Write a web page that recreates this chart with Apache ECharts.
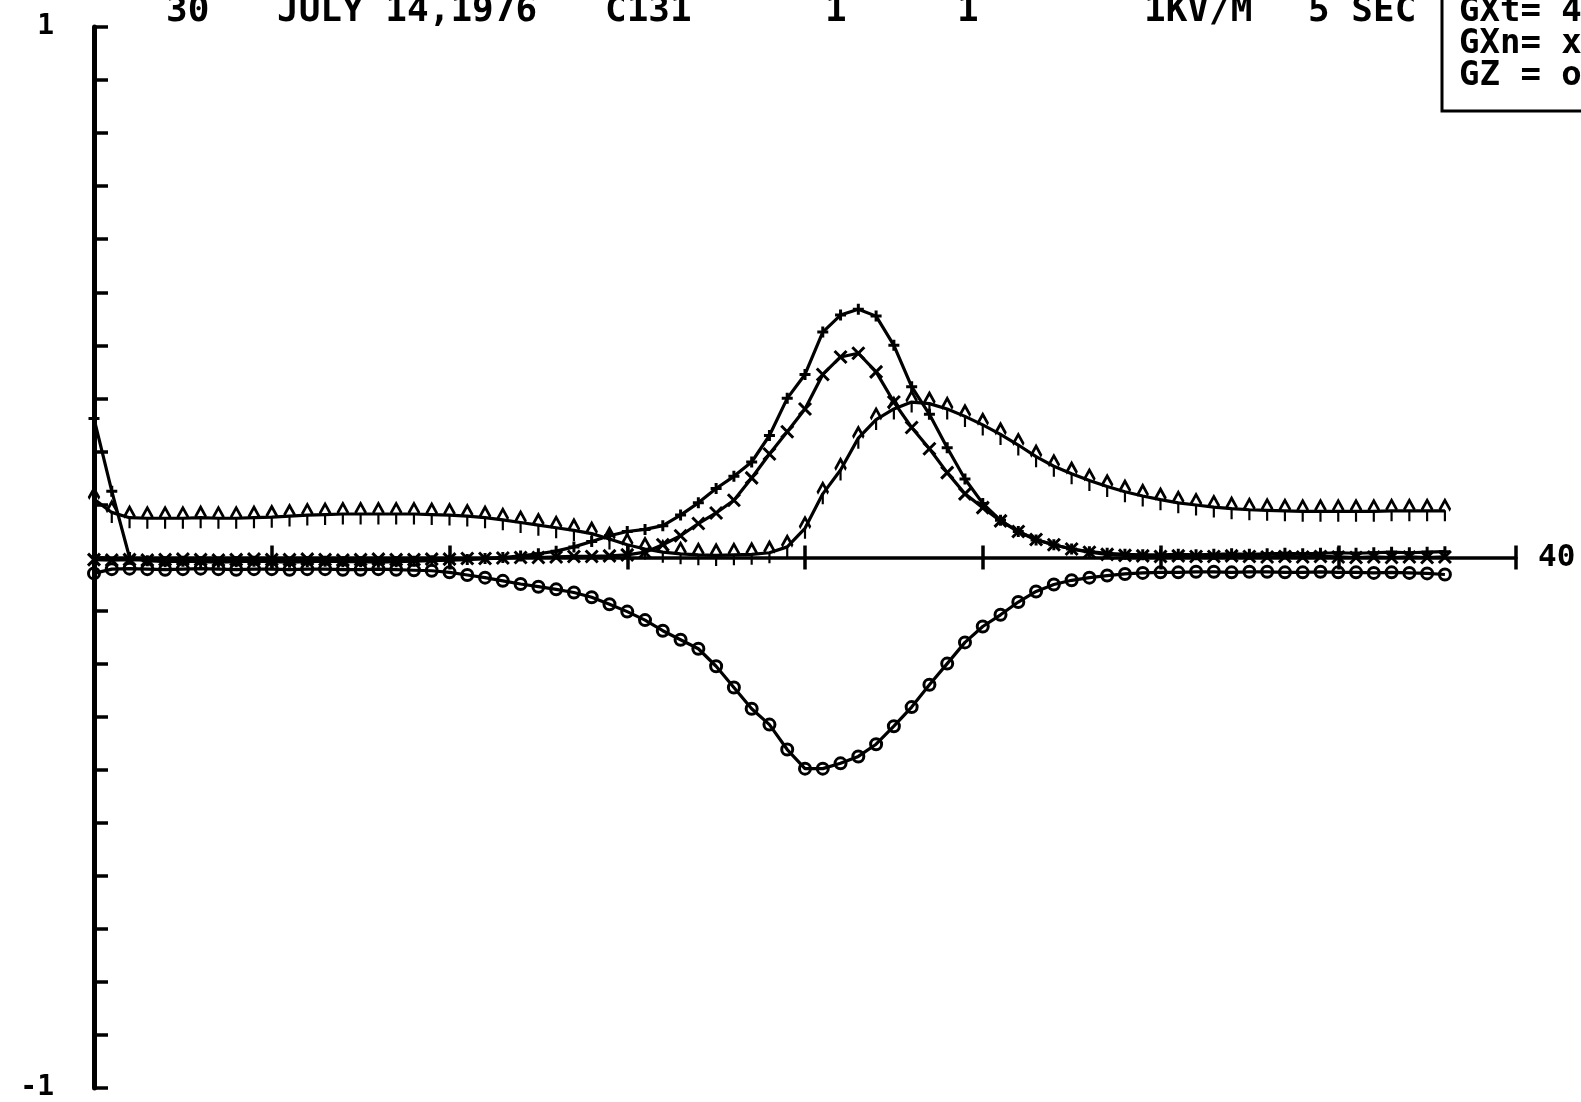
<!DOCTYPE html>
<html><head><meta charset="utf-8">
<script src="https://cdn.jsdelivr.net/npm/echarts@6/dist/echarts.min.js"></script>
<style>html,body{margin:0;padding:0;background:#fff}#c{width:1581px;height:1102px}</style>
</head><body><div id="c"></div>
<script>
// ---- data ----
const times = [0,0.5,1,1.5,2,2.5,3,3.5,4,4.5,5,5.5,6,6.5,7,7.5,8,8.5,9,9.5,10,10.5,11,11.5,12,12.5,13,13.5,14,14.5,15,15.5,16,16.5,17,17.5,18,18.5,19,19.5,20,20.5,21,21.5,22,22.5,23,23.5,24,24.5,25,25.5,26,26.5,27,27.5,28,28.5,29,29.5,30,30.5,31,31.5,32,32.5,33,33.5,34,34.5,35,35.5,36,36.5,37,37.5,38];

const gPlus = [0.262,0.125,0.0,-0.006,-0.008,-0.007,-0.008,-0.009,-0.008,-0.007,
  -0.008,-0.009,-0.008,-0.007,-0.008,-0.008,-0.009,-0.008,-0.007,-0.006,
  -0.005,-0.004,-0.002,0.0,0.003,0.007,0.012,0.02,0.03,0.041,
  0.049,0.053,0.06,0.08,0.103,0.13,0.153,0.18,0.23,0.3,
  0.345,0.425,0.457,0.468,0.455,0.4,0.322,0.27,0.207,0.148,
  0.102,0.07,0.049,0.033,0.024,0.016,0.011,0.008,0.006,0.005,
  0.005,0.006,0.005,0.006,0.007,0.006,0.007,0.008,0.007,0.008,
  0.009,0.008,0.009,0.01,0.009,0.01,0.011];

const gxn = [-0.004,-0.005,-0.004,-0.005,-0.004,-0.003,-0.004,-0.005,-0.004,-0.003,
  -0.004,-0.004,-0.003,-0.004,-0.005,-0.004,-0.003,-0.004,-0.004,-0.003,
  -0.003,-0.002,-0.002,-0.001,0.0,0.0,0.001,0.002,0.002,0.003,
  0.005,0.01,0.024,0.041,0.064,0.084,0.108,0.15,0.195,0.237,
  0.28,0.345,0.378,0.385,0.35,0.293,0.245,0.205,0.16,0.12,
  0.094,0.069,0.049,0.034,0.024,0.016,0.01,0.006,0.004,0.003,
  0.002,0.003,0.002,0.002,0.003,0.002,0.001,0.002,0.001,0.002,
  0.001,0.0,0.001,0.0,0.001,0.0,0.001];

const gxt = [0.11,0.085,0.075,0.074,0.074,0.074,0.075,0.074,0.074,0.075,
  0.076,0.078,0.08,0.081,0.082,0.082,0.082,0.082,0.082,0.081,
  0.08,0.078,0.075,0.071,0.066,0.061,0.056,0.051,0.045,0.035,
  0.024,0.016,0.01,0.007,0.005,0.004,0.005,0.006,0.009,0.02,
  0.055,0.12,0.165,0.225,0.26,0.28,0.293,0.29,0.28,0.266,
  0.25,0.232,0.212,0.19,0.172,0.158,0.145,0.134,0.124,0.116,
  0.109,0.103,0.099,0.095,0.092,0.09,0.089,0.088,0.087,0.087,
  0.087,0.087,0.087,0.088,0.088,0.088,0.088];

const gz = [-0.03,-0.022,-0.021,-0.022,-0.023,-0.022,-0.021,-0.022,-0.023,-0.022,
  -0.022,-0.023,-0.022,-0.022,-0.023,-0.023,-0.022,-0.023,-0.024,-0.025,
  -0.028,-0.033,-0.038,-0.044,-0.05,-0.055,-0.06,-0.066,-0.075,-0.088,
  -0.102,-0.118,-0.138,-0.155,-0.172,-0.205,-0.245,-0.285,-0.315,-0.362,
  -0.398,-0.398,-0.388,-0.375,-0.352,-0.318,-0.282,-0.24,-0.2,-0.16,
  -0.13,-0.108,-0.084,-0.064,-0.051,-0.043,-0.038,-0.034,-0.031,-0.029,
  -0.028,-0.028,-0.027,-0.027,-0.028,-0.027,-0.027,-0.028,-0.028,-0.027,
  -0.028,-0.028,-0.029,-0.028,-0.029,-0.03,-0.032];

const yLabelValues = [-1, 1];
const xEndLabel = '40';
const headerTexts = ['30', 'JULY 14,1976', 'C131', '1', '1', '1KV/M', '5 SEC'];
const legendRows = ['GXt= 4', 'GXn= x', 'GZ = o'];

// ---- layout (not data) ----
const headerLeft = [166, 277, 605, 825, 957, 1144, 1308];
const FONT = '"DejaVu Sans Mono", monospace';

const pts = arr => times.map((t, i) => [t, arr[i]]);
const strokeSym = { color: 'transparent', borderColor: '#000', borderWidth: 3 };
function mkSeries(name, arr, symbol, size) {
  return {
    name, type: 'line', data: pts(arr), symbol, symbolSize: size,
    showSymbol: true, showAllSymbol: true, clip: false,
    lineStyle: { color: '#000', width: 3.2 },
    itemStyle: strokeSym,
    emphasis: { disabled: true }
  };
}

const chart = echarts.init(document.getElementById('c'), null, { renderer: 'canvas' });
chart.setOption({
  animation: false,
  backgroundColor: '#fff',
  title: headerTexts.map((t, i) => ({
    text: t, left: headerLeft[i], top: -6, padding: 0,
    textStyle: { fontFamily: FONT, fontWeight: 'bold', fontSize: 36, lineHeight: 36, color: '#000' }
  })),
  grid: { left: 94, right: 65, top: 27, bottom: 14, containLabel: false },
  xAxis: [
    { type: 'value', min: 0, max: 40, interval: 5, position: 'bottom',
      axisLine: { show: true, onZero: true, onZeroAxisIndex: 0, lineStyle: { color: '#000', width: 3.5 } },
      axisTick: { inside: false, length: 12, lineStyle: { color: '#000', width: 3.5 } },
      axisLabel: { show: false }, splitLine: { show: false },
      name: xEndLabel, nameLocation: 'end', nameGap: 22,
      nameTextStyle: { fontFamily: FONT, fontWeight: 'bold', fontSize: 31, color: '#000', verticalAlign: 'middle' } },
    { type: 'value', min: 0, max: 40, interval: 5, position: 'top',
      axisLine: { show: true, onZero: true, onZeroAxisIndex: 0, lineStyle: { color: 'rgba(0,0,0,0)', width: 1 } },
      axisTick: { show: true, inside: false, length: 12, lineStyle: { color: '#000', width: 3.5 } },
      axisLabel: { show: false }, splitLine: { show: false } }
  ],
  yAxis: {
    type: 'value', min: -1, max: 1, interval: 0.1,
    axisLine: { show: true, onZero: false, lineStyle: { color: '#000', width: 5 } },
    axisTick: { show: true, inside: true, length: 14, lineStyle: { color: '#000', width: 3.5 } },
    axisLabel: {
      margin: 40, fontFamily: FONT, fontWeight: 'bold', fontSize: 28, color: '#000',
      formatter: v => yLabelValues.some(l => Math.abs(l - v) < 1e-9) ? String(Math.round(v)) : ''
    },
    splitLine: { show: false }
  },
  graphic: [
    { type: 'rect', shape: { x: 1442, y: -20, width: 300, height: 131 },
      style: { fill: 'none', stroke: '#000', lineWidth: 3 } },
    { type: 'text', style: { x: 1459, y: -4, text: legendRows.join('\n'),
      font: 'bold 34px ' + FONT, lineHeight: 32, fill: '#000', verticalAlign: 'top' } }
  ],
  series: [
    mkSeries('GXt', gxt, 'path://M0,9 L5,0 L10,9 M5,9 L5,19', [11, 21]),
    mkSeries('GXn', gxn, 'path://M0,0 L10,10 M10,0 L0,10', 12),
    mkSeries('GZ', gz, 'circle', 11),
    mkSeries('G', gPlus, 'path://M5,0 L5,10 M0,5 L10,5', 11)
  ]
});
</script></body></html>
